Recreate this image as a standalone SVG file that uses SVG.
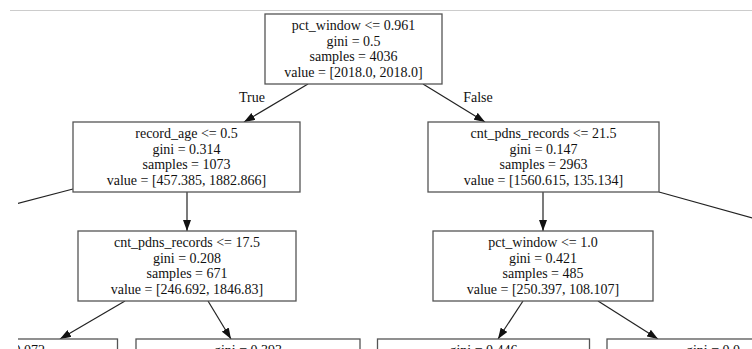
<svg xmlns="http://www.w3.org/2000/svg" width="752" height="349" viewBox="0 0 752 349">
<style>
.box{fill:#fff;stroke:#555;stroke-width:1.3}
.t{font-family:"Liberation Serif","Times New Roman",serif;font-size:14px;fill:#111;text-anchor:middle}
.e{stroke:#222;stroke-width:1.2;fill:none;marker-end:url(#ah)}
.en{stroke:#222;stroke-width:1.2;fill:none}
</style>
<defs>
<marker id="ah" markerUnits="userSpaceOnUse" markerWidth="11" markerHeight="8" refX="11" refY="4" orient="auto"><path d="M0,0 L11,4 L0,8 z" fill="#111"/></marker>
<clipPath id="area"><rect x="18" y="11" width="734" height="338"/></clipPath>
</defs>
<rect width="752" height="349" fill="#fff"/>
<line x1="10" y1="10.5" x2="752" y2="10.5" stroke="#ccc" stroke-width="1"/>
<g clip-path="url(#area)">
<g id="edges">
<line class="e" x1="308" y1="84" x2="244" y2="122"/>
<line class="e" x1="423" y1="84" x2="485" y2="122"/>
<text class="t" x="252" y="102">True</text>
<text class="t" x="478" y="102">False</text>
<line class="e" x1="187" y1="192" x2="187" y2="231"/>
<line class="e" x1="543" y1="192" x2="543" y2="231"/>
<line class="en" x1="73" y1="189" x2="0" y2="208"/>
<line class="en" x1="659" y1="192" x2="760" y2="220"/>
<line class="e" x1="125" y1="301" x2="60" y2="339"/>
<line class="e" x1="208" y1="301" x2="231" y2="339"/>
<line class="e" x1="523" y1="301" x2="498" y2="339"/>
<line class="e" x1="598" y1="301" x2="658" y2="339"/>
</g>
<g id="n0">
<rect class="box" x="265" y="14" width="177" height="70"/>
<text class="t" x="353.5" y="30">pct_window &lt;= 0.961</text>
<text class="t" x="353.5" y="45.5">gini = 0.5</text>
<text class="t" x="353.5" y="61">samples = 4036</text>
<text class="t" x="353.5" y="76.5">value = [2018.0, 2018.0]</text>
</g>
<g id="n1">
<rect class="box" x="73" y="122" width="227" height="70"/>
<text class="t" x="186.5" y="138">record_age &lt;= 0.5</text>
<text class="t" x="186.5" y="153.5">gini = 0.314</text>
<text class="t" x="186.5" y="169">samples = 1073</text>
<text class="t" x="186.5" y="184.5">value = [457.385, 1882.866]</text>
</g>
<g id="n2">
<rect class="box" x="428" y="122" width="231" height="70"/>
<text class="t" x="543.5" y="138">cnt_pdns_records &lt;= 21.5</text>
<text class="t" x="543.5" y="153.5">gini = 0.147</text>
<text class="t" x="543.5" y="169">samples = 2963</text>
<text class="t" x="543.5" y="184.5">value = [1560.615, 135.134]</text>
</g>
<g id="n3">
<rect class="box" x="78" y="231" width="218" height="70"/>
<text class="t" x="187" y="247">cnt_pdns_records &lt;= 17.5</text>
<text class="t" x="187" y="262.5">gini = 0.208</text>
<text class="t" x="187" y="278">samples = 671</text>
<text class="t" x="187" y="293.5">value = [246.692, 1846.83]</text>
</g>
<g id="n4">
<rect class="box" x="433" y="231" width="220" height="70"/>
<text class="t" x="543" y="247">pct_window &lt;= 1.0</text>
<text class="t" x="543" y="262.5">gini = 0.421</text>
<text class="t" x="543" y="278">samples = 485</text>
<text class="t" x="543" y="293.5">value = [250.397, 108.107]</text>
</g>
<g id="n5">
<rect class="box" x="-96" y="339" width="213.5" height="70"/>
<text class="t" x="11" y="355">gini = 0.072</text>
</g>
<g id="n6">
<rect class="box" x="136" y="339" width="224" height="70"/>
<text class="t" x="248" y="355">gini = 0.393</text>
</g>
<g id="n7">
<rect class="box" x="377.5" y="339" width="212" height="70"/>
<text class="t" x="483.5" y="355">gini = 0.446</text>
</g>
<g id="n8">
<rect class="box" x="607" y="339" width="212" height="70"/>
<text class="t" x="713" y="355">gini = 0.0</text>
</g>
</g>
</svg>
